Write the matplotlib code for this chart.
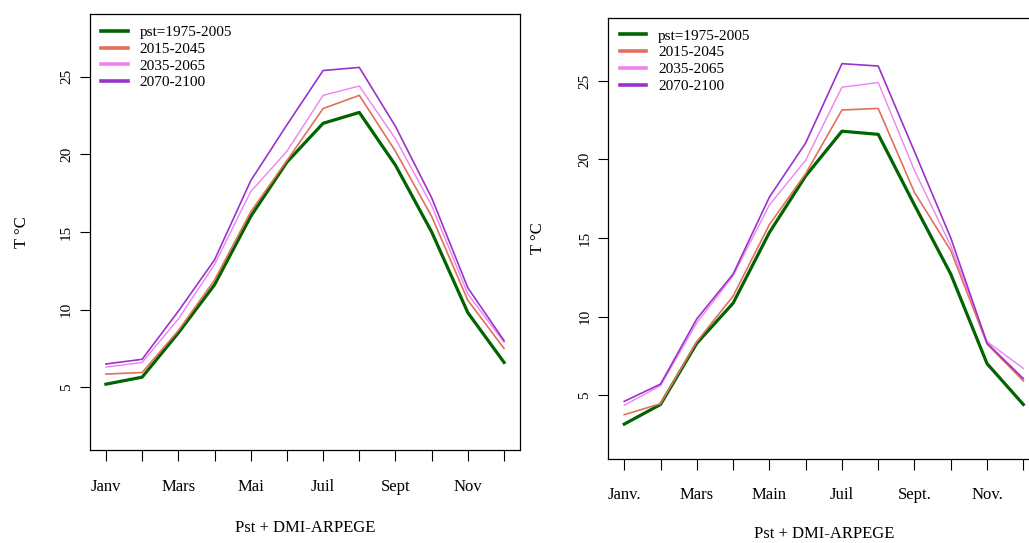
import matplotlib
matplotlib.use('Agg')
from matplotlib import pyplot

pyplot.rcParams['font.family'] = ['Liberation Serif', 'DejaVu Serif']

months = list(range(1, 13))
tick_months = [1, 3, 5, 7, 9, 11]
labels_left = ['Janv', 'Mars', 'Mai', 'Juil', 'Sept', 'Nov']
labels_right = ['Janv.', 'Mars', 'Main', 'Juil', 'Sept.', 'Nov.']
periods = ['pst=1975-2005', '2015-2045', '2035-2065', '2070-2100']

# panel 1
left_pst = [5.2, 5.65, 8.5, 11.6, 16.0, 19.5, 22.0, 22.7, 19.3, 15.0, 9.8, 6.6]
left_2015 = [5.85, 5.95, 8.65, 11.9, 16.3, 19.6, 22.95, 23.8, 20.2, 16.0, 10.6, 7.5]
left_2035 = [6.3, 6.6, 9.4, 12.9, 17.6, 20.2, 23.8, 24.4, 21.0, 16.7, 11.0, 7.9]
left_2070 = [6.5, 6.8, 9.9, 13.2, 18.3, 21.9, 25.4, 25.6, 21.8, 17.2, 11.4, 8.0]

# panel 2
right_pst = [3.15, 4.4, 8.3, 10.85, 15.35, 18.95, 21.8, 21.6, 17.1, 12.7, 7.0, 4.4]
right_2015 = [3.75, 4.45, 8.4, 11.3, 15.85, 19.1, 23.15, 23.25, 17.9, 14.2, 8.25, 5.9]
right_2035 = [4.35, 5.6, 9.6, 12.6, 17.1, 19.95, 24.6, 24.9, 19.3, 14.5, 8.4, 6.7]
right_2070 = [4.6, 5.7, 9.85, 12.7, 17.6, 21.05, 26.1, 25.95, 20.5, 15.0, 8.3, 6.05]

colors = ['#006400', '#E2705A', '#EE82EE', '#9A32CD']
widths = [2.3, 1.2, 1.0, 1.2]


def draw_panel(ax, series, xlabels):
    for vals, col, lw, name in zip(series, colors, widths, periods):
        ax.plot(months, vals, color=col, lw=lw, label=name)
    ax.set_xlim(0.56, 12.44)
    ax.set_ylim(0.96, 29.04)
    ax.set_xticks(months)
    ax.set_xticklabels([xlabels[tick_months.index(m)] if m in tick_months else '' for m in months],
                       fontsize=12)
    ax.set_yticks([5, 10, 15, 20, 25])
    for tick in ax.get_yticklabels():
        tick.set_rotation(90)
        tick.set_va('center')
        tick.set_fontsize(11)
    ax.tick_params(axis='x', length=7.7, width=0.8, pad=13)
    ax.tick_params(axis='y', length=7.2, width=0.8, pad=5)
    for sp in ax.spines.values():
        sp.set_linewidth(0.9)
    ax.set_xlabel('Pst + DMI-ARPEGE', fontsize=12)
    ax.set_ylabel('T °C', fontsize=12)
    ax.xaxis.label.set_va('center')
    ax.yaxis.label.set_va('center')
    leg = ax.legend(loc='upper left', frameon=False, fontsize=11, handlelength=1.75,
                    handletextpad=0.75, labelspacing=0.2, borderaxespad=0.35,
                    bbox_to_anchor=(0.0, 1.0))
    for line in leg.get_lines():
        line.set_linewidth(2.6)


fig = pyplot.figure(figsize=(10.29, 5.43), dpi=100)

ax1 = fig.add_axes([90 / 1029, 93 / 543, 430 / 1029, 436 / 543])
draw_panel(ax1, [left_pst, left_2015, left_2035, left_2070], labels_left)
ax1.xaxis.set_label_coords(0.5, -0.178)
ax1.yaxis.set_label_coords(-0.158, 0.5)

ax2 = fig.add_axes([608.3 / 1029, 84.5 / 543, 431 / 1029, 441 / 543])
draw_panel(ax2, [right_pst, right_2015, right_2035, right_2070], labels_right)
ax2.xaxis.set_label_coords(0.5, -0.171)
ax2.yaxis.set_label_coords(-0.162, 0.5)

pyplot.savefig('out.png', dpi=100)
